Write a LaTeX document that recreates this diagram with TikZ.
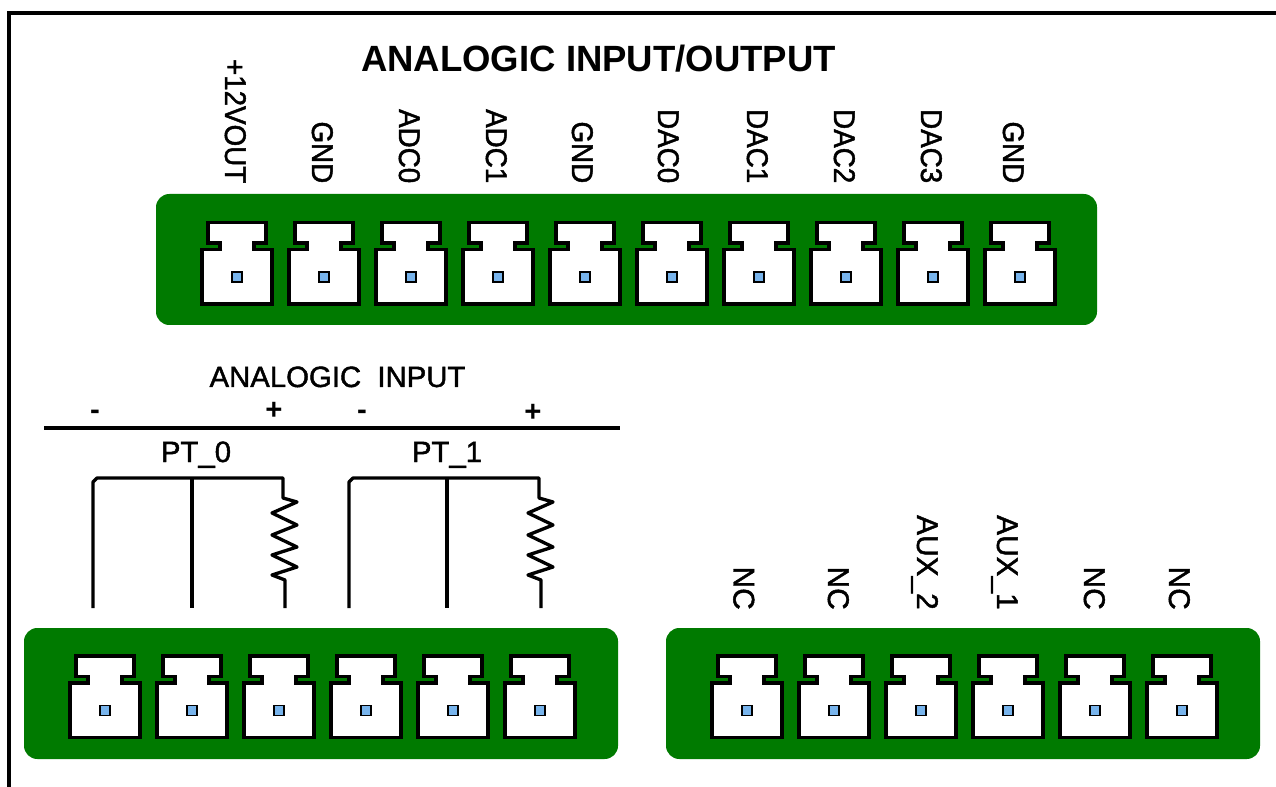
\documentclass[tikz,border=0pt]{standalone}
\usepackage{fontspec}
\setmainfont{Liberation Sans}
\newfontfamily\labfont[FakeBold=1.5]{Liberation Sans}
\newfontfamily\narrowfont[FakeBold=1.5,FakeStretch=0.93]{Liberation Sans}
\definecolor{boardgreen}{RGB}{0,122,0}
\definecolor{pinblue}{RGB}{120,180,236}
\tikzset{
  board/.style={fill=boardgreen,draw=none,rounded corners=10pt},
  rim/.style={draw=black,line width=2.6pt,fill=white,miter limit=10},
  pin/.style={draw=black,line width=1.1pt,fill=pinblue},
  wire/.style={draw=black,line width=2.5pt,line join=round},
  label/.style={font=\labfont\fontsize{22}{22}\selectfont,inner sep=0pt},
  vlabel/.style={font=\labfont\fontsize{22.4}{22}\selectfont,inner sep=0pt,rotate=-90,anchor=base east},
  nlabel/.style={font=\narrowfont\fontsize{22.4}{22}\selectfont,inner sep=0pt,rotate=-90,anchor=base east},
  title/.style={font=\fontsize{27.4}{27.4}\selectfont\bfseries,inner sep=0pt,anchor=base},
  sign/.style={font=\fontsize{22}{22}\selectfont\bfseries,inner sep=0pt,anchor=base}
}
\newcommand{\jack}[2]{%
  \draw[rim] (#1-29,#2) -- (#1+29,#2) -- (#1+29,#2+20.5) -- (#1+17,#2+20.5) -- (#1+17,#2+27)
    -- (#1+35,#2+27) -- (#1+35,#2+81.5) -- (#1-35,#2+81.5) -- (#1-35,#2+27) -- (#1-17,#2+27)
    -- (#1-17,#2+20.5) -- (#1-29,#2+20.5) -- cycle;
  \draw[pin] (#1-5,#2+49.5) rectangle (#1+5,#2+59.5);}
\begin{document}
\begin{tikzpicture}[x=0.75pt,y=-0.75pt]
\useasboundingbox (0,0) rectangle (1276,787);
% frame
\draw[black,line width=3pt] (8.5,787) -- (8.5,13.5) -- (1276,13.5);
% boards
\fill[board] (156,194) rectangle (1097,325);
\fill[board] (24,628) rectangle (618,759);
\fill[board] (666,628) rectangle (1260,759);
% connectors
\foreach \x in {237,324,411,498,585,672,759,846,933,1020} {\jack{\x}{222.5}}
\foreach \x in {105,192,279,366,453,540} {\jack{\x}{656}}
\foreach \x in {747,834,921,1008,1095,1182} {\jack{\x}{656}}
% top labels
\node[title] (ttl) at (598.5,72) {ANALOGIC INPUT/OUTPUT};
\node[nlabel] (t0) at (225,183.5) {+12VOUT};
\node[nlabel] (t1) at (312,183.5) {GND};
\node[nlabel] (t2) at (399,183.5) {ADC0};
\node[nlabel] (t3) at (486,183.5) {ADC1};
\node[nlabel] (t4) at (572,183.5) {GND};
\node[nlabel] (t5) at (658,183.5) {DAC0};
\node[nlabel] (t6) at (747,183.5) {DAC1};
\node[nlabel] (t7) at (834,183.5) {DAC2};
\node[nlabel] (t8) at (921,183.5) {DAC3};
\node[nlabel] (t9) at (1003,183.5) {GND};
% bottom right labels
\node[vlabel] (b0) at (733.5,610) {NC};
\node[vlabel] (b1) at (828,610) {NC};
\node[vlabel] (b2) at (917,610) {AUX\_2};
\node[vlabel] (b3) at (997,610) {AUX\_1};
\node[vlabel] (b4) at (1084,610) {NC};
\node[vlabel] (b5) at (1169,610) {NC};
% analogic input
\node[label,anchor=base] (ai) at (337.5,387) {ANALOGIC\ \ INPUT};
\node[sign] at (95,419) {-};
\node[sign] at (274,419) {+};
\node[sign] at (362,419) {-};
\node[sign] at (533,421) {+};
\draw[wire] (44,428) -- (620,428);
\node[label,anchor=base] (pt0) at (196,462) {PT\_0};
\node[label,anchor=base] (pt1) at (447,462) {PT\_1};
% PT_0 circuit
\draw[wire] (93,608) -- (93,482) -- (97,478) -- (283,478) -- (283,498) -- (297,502) -- (272,513)
  -- (297,525) -- (272,535) -- (297,547) -- (272,555) -- (297,567) -- (272,575) -- (285,580) -- (285,608);
\draw[wire] (192,478) -- (192,608);
% PT_1 circuit
\draw[wire] (349,608) -- (349,482) -- (353,478) -- (539,478) -- (539,498) -- (553,502) -- (528,513)
  -- (553,525) -- (528,535) -- (553,547) -- (528,555) -- (553,567) -- (528,575) -- (541,580) -- (541,608);
\draw[wire] (447,478) -- (447,608);
\end{tikzpicture}
\end{document}
